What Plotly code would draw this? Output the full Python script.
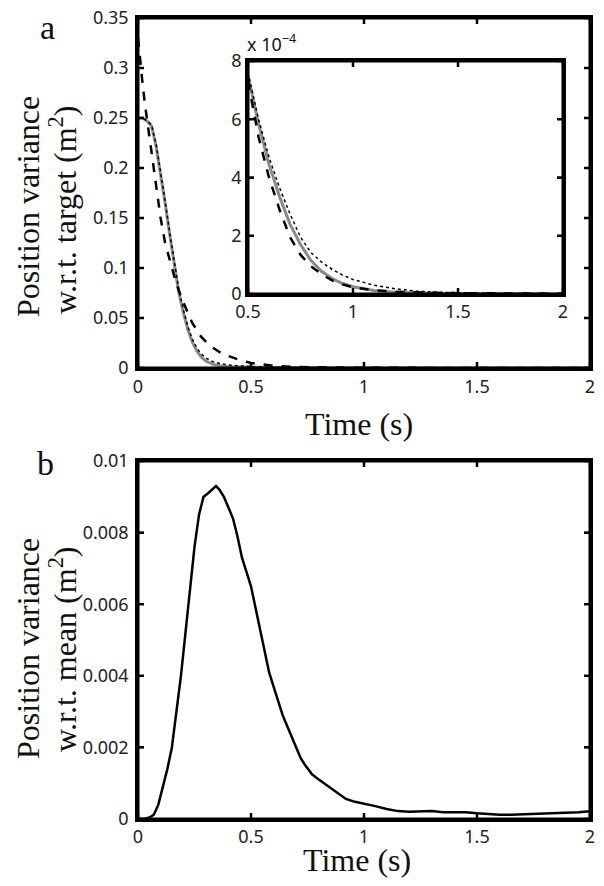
import plotly.graph_objects as go

# ---------------- Panel a: main curves ----------------
main_t_gray = [0, 0.02, 0.04, 0.06, 0.08, 0.10, 0.12, 0.14, 0.16, 0.18, 0.20, 0.22, 0.24, 0.26,
               0.28, 0.30, 0.33, 0.36, 0.40, 0.45, 0.5, 0.55, 0.6, 0.7, 0.8, 0.9, 1.0, 1.2, 1.5, 2.0]
main_gray = [0.250, 0.250, 0.247, 0.242, 0.222, 0.195, 0.165, 0.134, 0.103, 0.076, 0.056, 0.039,
             0.026, 0.017, 0.011, 0.007, 0.0038, 0.0022, 0.0013, 0.0009, 0.00075, 0.00055, 0.0004,
             0.00023, 0.00012, 0.00005, 0.00003, 0.00001, 0.000003, 0.0]

main_t_dot = [0, 0.02, 0.04, 0.06, 0.08, 0.10, 0.12, 0.14, 0.16, 0.18, 0.20, 0.22, 0.24, 0.26,
              0.28, 0.30, 0.33, 0.36, 0.40, 0.45, 0.5, 0.6, 0.8, 1.0, 1.5, 2.0]
main_dot = [0.250, 0.250, 0.247, 0.243, 0.224, 0.197, 0.167, 0.136, 0.106, 0.079, 0.059, 0.042,
            0.029, 0.020, 0.014, 0.010, 0.0065, 0.0045, 0.003, 0.002, 0.0014, 0.0008, 0.0003,
            0.0001, 0.00002, 0.0]

main_t_dash = [0, 0.01, 0.02, 0.03, 0.04, 0.05, 0.06, 0.07, 0.08, 0.09, 0.10, 0.12, 0.14, 0.16,
               0.18, 0.20, 0.24, 0.28, 0.32, 0.36, 0.40, 0.45, 0.5, 0.6, 0.7, 0.8, 1.0, 1.5, 2.0]
main_dash = [0.330, 0.305, 0.285, 0.265, 0.248, 0.232, 0.216, 0.200, 0.183, 0.165, 0.150, 0.125,
             0.108, 0.092, 0.078, 0.066, 0.045, 0.031, 0.022, 0.016, 0.012, 0.008, 0.0050,
             0.0022, 0.0010, 0.0005, 0.0002, 0.00005, 0.0]

# ---------------- Panel a: inset curves (units of 1e-4 m^2) ----------------
inset_t = [0.5, 0.55, 0.6, 0.65, 0.7, 0.75, 0.8, 0.85, 0.9, 0.95, 1.0, 1.1, 1.2, 1.3, 1.4, 1.5,
           1.7, 2.0]
inset_gray = [7.5, 5.85, 4.45, 3.35, 2.4, 1.7, 1.15, 0.78, 0.53, 0.36, 0.25, 0.12, 0.06, 0.03,
              0.02, 0.01, 0.0, 0.0]
inset_dash = [7.3, 5.4, 4.0, 2.9, 1.95, 1.35, 0.95, 0.68, 0.47, 0.33, 0.23, 0.13, 0.08, 0.05,
              0.04, 0.03, 0.02, 0.01]
inset_dot = [7.6, 6.0, 4.7, 3.65, 2.75, 1.95, 1.42, 1.1, 0.85, 0.65, 0.5, 0.3, 0.18, 0.1,
             0.06, 0.04, 0.02, 0.01]

# ---------------- Panel b ----------------
b_t = [0, 0.03, 0.05, 0.07, 0.09, 0.11, 0.13, 0.15, 0.17, 0.19, 0.21, 0.23, 0.25, 0.27, 0.29,
       0.31, 0.33, 0.345, 0.36, 0.38, 0.40, 0.42, 0.44, 0.46, 0.48, 0.50, 0.52, 0.54, 0.56, 0.58,
       0.60, 0.62, 0.64, 0.66, 0.68, 0.70, 0.72, 0.74, 0.77, 0.80, 0.84, 0.88, 0.92, 0.96, 1.0,
       1.05, 1.10, 1.15, 1.2, 1.25, 1.3, 1.35, 1.4, 1.45, 1.5, 1.55, 1.6, 1.65, 1.7, 1.75, 1.8,
       1.85, 1.9, 1.95, 2.0]
b_var = [0.0, 0.00001, 0.00004, 0.00012, 0.0004, 0.0009, 0.0014, 0.0020, 0.0030, 0.0040, 0.0052,
         0.0065, 0.0076, 0.0085, 0.0090, 0.0091, 0.0092, 0.0093, 0.0092, 0.0090, 0.0087, 0.0084,
         0.0079, 0.0073, 0.0069, 0.0065, 0.0059, 0.0053, 0.0047, 0.0041, 0.0037, 0.0033, 0.0029,
         0.0026, 0.0023, 0.0020, 0.0017, 0.0015, 0.00125, 0.0011, 0.00092, 0.00072, 0.00056,
         0.00048, 0.00043, 0.00036, 0.00028, 0.00022, 0.00020, 0.00021, 0.00022, 0.00019, 0.00020,
         0.00019, 0.00016, 0.00013, 0.00012, 0.00012, 0.00013, 0.00013, 0.00015, 0.00015, 0.00018,
         0.00019, 0.00022]

x_ticks = [0, 0.5, 1, 1.5, 2]
x_ticklabels = ["0", "0.5", "1", "1.5", "2"]
ya_ticks = [0, 0.05, 0.1, 0.15, 0.2, 0.25, 0.3, 0.35]
ya_ticklabels = ["0", "0.05", "0.1", "0.15", "0.2", "0.25", "0.3", "0.35"]
inset_xticks = [0.5, 1, 1.5, 2]
inset_xticklabels = ["0.5", "1", "1.5", "2"]
inset_yticks = [0, 2, 4, 6, 8]
inset_yticklabels = ["0", "2", "4", "6", "8"]
yb_ticks = [0, 0.002, 0.004, 0.006, 0.008, 0.01]
yb_ticklabels = ["0", "0.002", "0.004", "0.006", "0.008", "0.01"]

x_range = [0, 2]
ya_range = [0, 0.35]
inset_xrange = [0.5, 2]
inset_yrange = [0, 8]
yb_range = [0, 0.01]

W, H = 604, 886
OFF = 8  # page body margin offset
GRAY = "#8a8a8a"
TICKLEN = 6

def px_x(p):
    return (p - OFF) / W

def px_y(p):
    return 1 - (p - OFF) / H

# subplot boxes in reference pixels: (left, right, top, bottom)
box_a = (138, 590, 18, 368)
box_b = (138, 590, 461, 819)
box_in = (248, 563, 61, 294)

fig = go.Figure()

# main panel a
fig.add_trace(go.Scatter(x=main_t_gray, y=main_gray, mode="lines", line=dict(color=GRAY, width=3),
                         xaxis="x", yaxis="y", showlegend=False))
fig.add_trace(go.Scatter(x=main_t_dot, y=main_dot, mode="lines",
                         line=dict(color="black", width=1.5, dash="dot"),
                         xaxis="x", yaxis="y", showlegend=False))
fig.add_trace(go.Scatter(x=main_t_dash, y=main_dash, mode="lines",
                         line=dict(color="black", width=2.5, dash="dash"),
                         xaxis="x", yaxis="y", showlegend=False))
# inset
fig.add_trace(go.Scatter(x=inset_t, y=inset_gray, mode="lines", line=dict(color=GRAY, width=3),
                         xaxis="x3", yaxis="y3", showlegend=False))
fig.add_trace(go.Scatter(x=inset_t, y=inset_dot, mode="lines",
                         line=dict(color="black", width=1.5, dash="dot"),
                         xaxis="x3", yaxis="y3", showlegend=False))
fig.add_trace(go.Scatter(x=inset_t, y=inset_dash, mode="lines",
                         line=dict(color="black", width=2.5, dash="dash"),
                         xaxis="x3", yaxis="y3", showlegend=False))
# panel b
fig.add_trace(go.Scatter(x=b_t, y=b_var, mode="lines", line=dict(color="black", width=2.5),
                         xaxis="x2", yaxis="y2", showlegend=False))

tickfont = dict(family="Noto Sans, Open Sans, sans-serif", size=18, color="#222")
serif = "Liberation Serif, Times New Roman, serif"

common = dict(showline=True, linecolor="black", linewidth=2.5, mirror="ticks", ticks="inside",
              ticklen=TICKLEN, tickwidth=2, tickcolor="black", showgrid=False, zeroline=False,
              tickfont=tickfont, automargin=False, layer="above traces",
              ticklabeloverflow="allow")

fig.update_layout(
    template="none",
    width=W, height=H, autosize=False,
    margin=dict(l=0, r=0, t=0, b=0, pad=0),
    paper_bgcolor="white", plot_bgcolor="white",
    xaxis=dict(domain=[px_x(box_a[0]), px_x(box_a[1])], range=x_range, tickvals=x_ticks,
               ticktext=x_ticklabels, anchor="y", ticklabelstandoff=1, **common),
    yaxis=dict(domain=[px_y(box_a[3]), px_y(box_a[2])], range=ya_range, tickvals=ya_ticks,
               ticktext=ya_ticklabels, anchor="x", ticklabelstandoff=3, **common),
    xaxis2=dict(domain=[px_x(box_b[0]), px_x(box_b[1])], range=x_range, tickvals=x_ticks,
                ticktext=x_ticklabels, anchor="y2", ticklabelstandoff=0, **common),
    yaxis2=dict(domain=[px_y(box_b[3]), px_y(box_b[2])], range=yb_range, tickvals=yb_ticks,
                ticktext=yb_ticklabels, anchor="x2", ticklabelstandoff=3, **common),
    xaxis3=dict(domain=[px_x(box_in[0]), px_x(box_in[1])], range=inset_xrange,
                tickvals=inset_xticks, ticktext=inset_xticklabels, anchor="y3", **common),
    yaxis3=dict(domain=[px_y(box_in[3]), px_y(box_in[2])], range=inset_yrange,
                tickvals=inset_yticks, ticktext=inset_yticklabels, anchor="x3", **common),
)

# frames and inside ticks; tick positions follow each axis's linear scale over its range
shapes = []
tick_line = dict(color="black", width=2.5)
for xr, yr, xt, yt, xrng, yrng, box in [
        ("x", "y", x_ticks, ya_ticks, x_range, ya_range, box_a),
        ("x2", "y2", x_ticks, yb_ticks, x_range, yb_range, box_b),
        ("x3", "y3", inset_xticks, inset_yticks, inset_xrange, inset_yrange, box_in)]:
    fx = TICKLEN / (box[1] - box[0])   # tick length as a fraction of the x domain
    fy = TICKLEN / (box[3] - box[2])   # tick length as a fraction of the y domain
    for v in xt:
        u = (v - xrng[0]) / (xrng[1] - xrng[0])
        shapes.append(dict(type="line", xref=xr + " domain", yref=yr + " domain",
                           x0=u, x1=u, y0=0, y1=fy, line=tick_line, layer="above"))
        shapes.append(dict(type="line", xref=xr + " domain", yref=yr + " domain",
                           x0=u, x1=u, y0=1, y1=1 - fy, line=tick_line, layer="above"))
    for v in yt:
        u = (v - yrng[0]) / (yrng[1] - yrng[0])
        shapes.append(dict(type="line", xref=xr + " domain", yref=yr + " domain",
                           y0=u, y1=u, x0=0, x1=fx, line=tick_line, layer="above"))
        shapes.append(dict(type="line", xref=xr + " domain", yref=yr + " domain",
                           y0=u, y1=u, x0=1, x1=1 - fx, line=tick_line, layer="above"))
    shapes.append(dict(type="rect", xref=xr + " domain", yref=yr + " domain",
                       x0=0, x1=1, y0=0, y1=1, line=dict(color="black", width=3),
                       layer="above"))
fig.update_layout(shapes=shapes)

ann = []
def add_text(text, x, y, size, family, angle=0, xanchor="center", yanchor="middle"):
    ann.append(dict(text=text, x=px_x(x), y=px_y(y), xref="paper", yref="paper",
                    showarrow=False, textangle=angle, xanchor=xanchor, yanchor=yanchor,
                    font=dict(family=family, size=size, color="#111")))

add_text("a", 47, 27, 34, serif)
add_text("b", 45, 463, 34, serif)
add_text("Position variance", 28, 207, 32, serif, angle=-90)
add_text("w.r.t. target (m<sup>2</sup>)", 63, 210, 32, serif, angle=-90)
add_text("Position variance", 28, 649, 32, serif, angle=-90)
add_text("w.r.t. mean (m<sup>2</sup>)", 63, 649, 32, serif, angle=-90)
add_text("Time (s)", 359, 424, 32, serif)
add_text("Time (s)", 357, 860, 32, serif)
add_text("x 10<sup>−4</sup>", 245, 58, 18, "Noto Sans, Open Sans, sans-serif",
         xanchor="left", yanchor="bottom")
fig.update_layout(annotations=ann)

fig.write_html("out.html")
